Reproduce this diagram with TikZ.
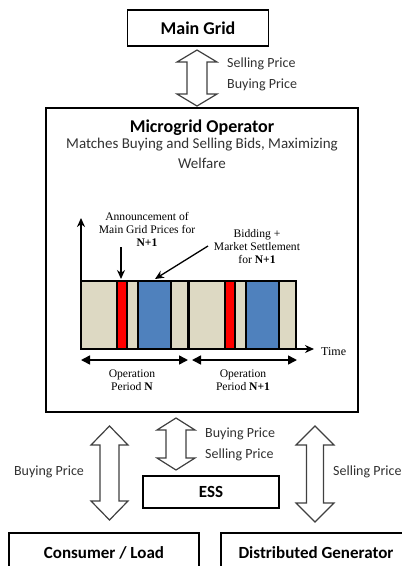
\documentclass[tikz,border=0pt]{standalone}
\usepackage{fontspec}
\setmainfont{Carlito}
\newfontfamily\tlfont{Liberation Serif}
\usetikzlibrary{arrows.meta}

\definecolor{barbeige}{RGB}{221,217,195}
\definecolor{barred}{RGB}{255,0,0}
\definecolor{barblue}{RGB}{79,129,189}
\definecolor{txtgray}{RGB}{50,50,50}

% vertical double block arrow: centre x, top tip y, bottom tip y, head half-width, shaft half-width, head length
\newcommand\blockupdown[6]{%
  \draw[blockarrow]
    (#1,#2) -- (#1+#4,#2+#6) -- (#1+#5,#2+#6) -- (#1+#5,#3-#6) -- (#1+#4,#3-#6)
    -- (#1,#3) -- (#1-#4,#3-#6) -- (#1-#5,#3-#6) -- (#1-#5,#2+#6) -- (#1-#4,#2+#6) -- cycle;}

\tikzset{
  box/.style={draw=black, line width=1.8pt, fill=white, inner sep=0pt},
  boxtitle/.style={font=\fontsize{17}{20}\selectfont\bfseries, text=black},
  label/.style={font=\fontsize{14}{16}\selectfont, text=txtgray, inner sep=0pt},
  blockarrow/.style={draw=black!75, line width=1.2pt, fill=white, line join=miter},
  tltext/.style={font=\tlfont\fontsize{11.6}{13}\selectfont, inner sep=0pt, align=center},
  seg/.style={draw=black, line width=1.3pt},
  axis/.style={line width=1.5pt, -{Stealth[length=9pt,width=8pt]}},
  period/.style={line width=1.5pt, {Triangle[length=9pt,width=9pt]}-{Triangle[length=9pt,width=9pt]}},
  pointer/.style={line width=1.3pt, -{Stealth[length=9pt,width=8pt]}},
}

\begin{document}
\begin{tikzpicture}[x=1pt, y=-1pt]
\useasboundingbox (0,0) rectangle (402,566);
\clip (0,0) rectangle (402,566);
\fill[white] (0,0) rectangle (402,566);

% main grid and the operator
\node[box, minimum width=141pt, minimum height=36pt] (grid) at (198,28) {};
\node[boxtitle, font=\fontsize{18}{20}\selectfont\bfseries] at (grid) {Main Grid};
\blockupdown{197}{50}{106}{20}{10}{12}
\node[label, anchor=west] (sell1) at (227,64) {Selling Price};
\node[label, anchor=west] (buy1) at (227,85) {Buying Price};

\draw[box] (46,108) rectangle (358,412);
\node[font=\fontsize{18}{20}\selectfont\bfseries, inner sep=0pt] (optitle) at (202,128) {Microgrid Operator};
\node[label, font=\fontsize{15}{17}\selectfont] (opline1) at (202,145) {Matches Buying and Selling Bids, Maximizing};
\node[label, font=\fontsize{15}{17}\selectfont] (opline2) at (202,163) {Welfare};

% time line of two operation periods
\draw[seg, fill=barbeige] (81,281) rectangle (188,349);
\draw[seg, fill=barbeige] (189,281) rectangle (296,349);
\draw[seg, fill=barred] (117,281) rectangle (127,349);
\draw[seg, fill=barblue] (138,281) rectangle (171,349);
\draw[seg, fill=barred] (225,281) rectangle (235,349);
\draw[seg, fill=barblue] (246,281) rectangle (279,349);

\coordinate (origin) at (81,349);
\coordinate (ytip) at (81,218);
\coordinate (xtip) at (314,349);
\draw[axis] (origin) -- (ytip);
\draw[axis] (origin) -- (xtip);
\node[tltext, font=\tlfont\fontsize{12}{14}\selectfont, anchor=west] (time) at (321,352) {Time};

\node[tltext] (announce) at (147,229) {Announcement of\\Main Grid Prices for\\\textbf{N+1}};
\coordinate (announceTip) at (121,279);
\draw[pointer] (121,247) -- (announceTip);

\node[tltext] (bidding) at (257,247) {Bidding +\\Market Settlement\\for \textbf{N+1}};
\coordinate (bidStart) at (208,246);
\coordinate (bidTip) at (155,279);
\draw[pointer] (bidStart) -- (bidTip);

\coordinate (p1a) at (81,360);
\coordinate (p1b) at (188,360);
\coordinate (p2a) at (192,360);
\coordinate (p2b) at (297,360);
\draw[period] (p1a) -- (p1b);
\draw[period] (p2a) -- (p2b);
\node[tltext] (periodN) at (132,380) {Operation\\Period \textbf{N}};
\node[tltext] (periodN1) at (243,380) {Operation\\Period \textbf{N+1}};

% exchanges below the operator
\blockupdown{176}{418}{470}{19}{10}{12}
\node[label, anchor=west] (buy2) at (205,434) {Buying Price};
\node[label, anchor=west] (sell2) at (205,455) {Selling Price};

\blockupdown{109.5}{426}{520}{18.5}{9.5}{19}
\node[label] (buy3) at (49,472) {Buying Price};

\blockupdown{315}{426}{522}{19}{8.5}{19}
\node[label, anchor=west] (sell3) at (333,472) {Selling Price};

\node[box, minimum width=136pt, minimum height=32pt] (ess) at (211,492) {};
\node[boxtitle] at (ess) {ESS};

\draw[box] (9,533) rectangle (199,600);
\node[boxtitle] (consumer) at (104,553) {Consumer / Load};
\draw[box] (221,533) rectangle (412,600);
\node[boxtitle] (dg) at (316,553) {Distributed Generator};
\end{tikzpicture}
\end{document}
